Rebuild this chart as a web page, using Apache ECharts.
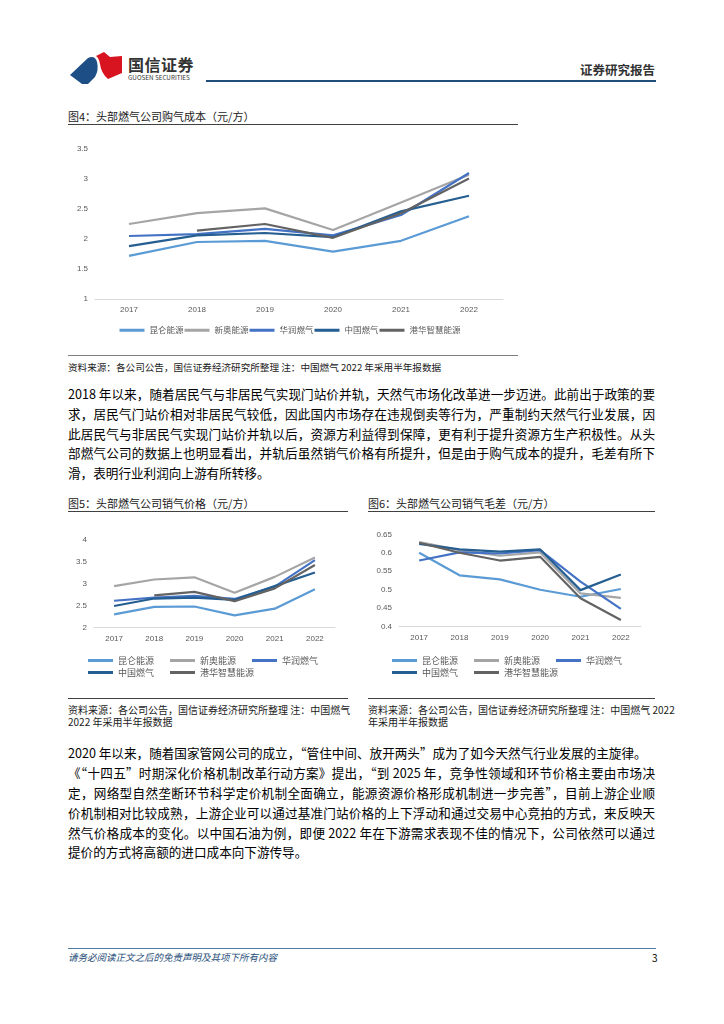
<!DOCTYPE html>
<html><head><meta charset="utf-8">
<script src="https://cdn.jsdelivr.net/npm/echarts@6/dist/echarts.min.js"></script>
<style>
html,body{margin:0;padding:0;background:#fff;}
#page{position:relative;width:724px;height:1024px;overflow:hidden;font-family:"Noto Sans CJK SC","Noto Sans",sans-serif;color:#000;}
.abs{position:absolute;white-space:nowrap;}
.ln{position:absolute;left:68px;width:587px;font-size:12.6px;line-height:16px;white-space:nowrap;}
.jl{text-align:justify;text-align-last:justify;}
.title{font-size:11px;line-height:14px;color:#1a1a1a;}
.src{font-size:9.6px;line-height:12px;color:#1a1a1a;}
.rule{position:absolute;height:0;}
</style></head>
<body><div id="page">
<!-- header -->
<svg class="abs" style="left:66px;top:48px" width="60" height="40" viewBox="66 48 60 40">
  <path d="M70,75 L88,58 Q95,55 97,62 Q99,70 95,77 L88,84 L82,84 Z" fill="#1d4f86"/>
  <path d="M96,56 L104,52 L110,57 L122,56 L122,73 L108,79 Q101,73 100,64 Q99,58 96,56 Z" fill="#d7141f"/>
</svg>
<div class="abs" style="left:128px;top:55px;font-size:16px;line-height:18px;font-weight:700;color:#333;letter-spacing:0.5px">国信证券</div>
<div class="abs" style="left:128px;top:74px;font-size:6.3px;line-height:8px;color:#333;">GUOSEN SECURITIES</div>
<div class="abs" style="left:580px;top:62px;font-size:12.5px;line-height:15px;font-weight:700;color:#333">证券研究报告</div>
<div class="rule" style="left:206px;top:80px;width:450px;border-top:2px solid #1f4e79"></div>

<!-- figure 4 -->
<div class="abs title" style="left:68px;top:109px">图4：头部燃气公司购气成本（元/方）</div>
<div class="rule" style="left:68px;top:124px;width:450px;border-top:1px solid #404040"></div>
<div id="c1" class="abs" style="left:60px;top:130px;width:460px;height:220px"></div>
<div class="rule" style="left:68px;top:355px;width:450px;border-top:1.5px solid #7f7f7f"></div>
<div class="abs src" style="left:68px;top:361px">资料来源：各公司公告，国信证券经济研究所整理 注：中国燃气 2022 年采用半年报数据</div>

<div class="ln jl" style="top:386px">2018 年以来，随着居民气与非居民气实现门站价并轨，天然气市场化改革进一步迈进。此前出于政策的要</div>
<div class="ln jl" style="top:406px">求，居民气门站价相对非居民气较低，因此国内市场存在违规倒卖等行为，严重制约天然气行业发展，因</div>
<div class="ln jl" style="top:426px">此居民气与非居民气实现门站价并轨以后，资源方利益得到保障，更有利于提升资源方生产积极性。从头</div>
<div class="ln jl" style="top:445px">部燃气公司的数据上也明显看出，并轨后虽然销气价格有所提升，但是由于购气成本的提升，毛差有所下</div>
<div class="ln" style="top:465px">滑，表明行业利润向上游有所转移。</div>

<!-- figure 5 -->
<div class="abs title" style="left:68px;top:496px">图5：头部燃气公司销气价格（元/方）</div>
<div class="rule" style="left:68px;top:511px;width:280px;border-top:1px solid #404040"></div>
<div id="c2" class="abs" style="left:60px;top:520px;width:300px;height:170px"></div>
<div class="rule" style="left:68px;top:698px;width:280px;border-top:1.5px solid #404040"></div>
<div class="abs src jl" style="left:68px;top:704px;width:279px;font-size:10px">资料来源：各公司公告，国信证券经济研究所整理 注：中国燃气</div>
<div class="abs src" style="left:68px;top:716px;font-size:10px">2022 年采用半年报数据</div>

<!-- figure 6 -->
<div class="abs title" style="left:368px;top:496px">图6：头部燃气公司销气毛差（元/方）</div>
<div class="rule" style="left:368px;top:511px;width:287px;border-top:1px solid #404040"></div>
<div id="c3" class="abs" style="left:360px;top:520px;width:300px;height:170px"></div>
<div class="rule" style="left:368px;top:698px;width:287px;border-top:1.5px solid #404040"></div>
<div class="abs src jl" style="left:368px;top:704px;width:287px;font-size:10px">资料来源：各公司公告，国信证券经济研究所整理 注：中国燃气 2022</div>
<div class="abs src" style="left:368px;top:716px;font-size:10px">年采用半年报数据</div>

<div class="ln" style="top:745px">2020 年以来，随着国家管网公司的成立，“管住中间、放开两头”成为了如今天然气行业发展的主旋律。</div>
<div class="ln jl" style="top:765px">《“十四五”时期深化价格机制改革行动方案》提出，“到 2025 年，竞争性领域和环节价格主要由市场决</div>
<div class="ln jl" style="top:785px">定，网络型自然垄断环节科学定价机制全面确立，能源资源价格形成机制进一步完善”，目前上游企业顺</div>
<div class="ln jl" style="top:805px">价机制相对比较成熟，上游企业可以通过基准门站价格的上下浮动和通过交易中心竞拍的方式，来反映天</div>
<div class="ln jl" style="top:825px">然气价格成本的变化。以中国石油为例，即便 2022 年在下游需求表现不佳的情况下，公司依然可以通过</div>
<div class="ln" style="top:844px">提价的方式将高额的进口成本向下游传导。</div>

<!-- footer -->
<div class="rule" style="left:68px;top:948px;width:588px;border-top:1px solid #4f7ca3"></div>
<div class="abs" style="left:68px;top:951px;font-size:9.5px;line-height:12px;font-style:italic;color:#1f4e79">请务必阅读正文之后的免责声明及其项下所有内容</div>
<div class="abs" style="left:652px;top:952px;font-size:10px;line-height:12px;color:#000">3</div>
</div>
<script>
// ---- data ----
var years = ['2017','2018','2019','2020','2021','2022'];
var seriesNames = ['昆仑能源','新奥能源','华润燃气','中国燃气','港华智慧能源'];
var seriesColors = ['#5B9BD5','#A5A5A5','#4472C4','#255E91','#636363'];

// 图4 购气成本
var costKunlun   = [1.72, 1.95, 1.97, 1.79, 1.97, 2.38];
var costXinao    = [2.25, 2.43, 2.51, 2.15, 2.61, 3.07];
var costHuarun   = [2.05, 2.08, 2.17, 2.06, 2.40, 3.10];
var costZhongguo = [1.88, 2.06, 2.10, 2.03, 2.46, 2.72];
var costGanghua  = [null, 2.14, 2.25, 2.02, 2.43, 3.01];

// 图5 销气价格
var priceKunlun   = [2.30, 2.47, 2.48, 2.28, 2.43, 2.87];
var priceXinao    = [2.94, 3.09, 3.14, 2.79, 3.15, 3.59];
var priceHuarun   = [2.61, 2.68, 2.72, 2.65, 2.93, 3.53];
var priceZhongguo = [2.49, 2.66, 2.68, 2.63, 2.94, 3.25];
var priceGanghua  = [null, 2.73, 2.81, 2.60, 2.89, 3.42];

// 图6 销气毛差
var marginKunlun   = [0.600, 0.539, 0.528, 0.500, 0.481, 0.502];
var marginXinao    = [0.629, 0.607, 0.592, 0.601, 0.490, 0.478];
var marginHuarun   = [0.579, 0.601, 0.598, 0.607, 0.522, 0.448];
var marginZhongguo = [0.624, 0.609, 0.603, 0.609, 0.499, 0.541];
var marginGanghua  = [0.627, 0.600, 0.579, 0.589, 0.477, 0.418];

var FONT = '"Liberation Sans","Noto Sans CJK SC",sans-serif';
var CJK = '"Noto Sans CJK SC",sans-serif';

function makeSeries(arrs){
  return arrs.map(function(d,i){
    return {name:seriesNames[i], type:'line', data:d, showSymbol:false, symbol:'none',
      connectNulls:false, color:seriesColors[i], silent:true,
      lineStyle:{width:2.2,color:seriesColors[i]}};
  });
}
function axes(grid, yMin, yMax, yInt){
  return {
    xAxis:{type:'category', data:years, boundaryGap:true,
      axisLine:{lineStyle:{color:'#d9d9d9',width:1}}, axisTick:{show:false},
      axisLabel:{color:'#595959', fontSize:8, fontFamily:FONT, margin:7}},
    yAxis:{type:'value', min:yMin, max:yMax, interval:yInt,
      axisLine:{show:false}, axisTick:{show:false}, splitLine:{show:false},
      axisLabel:{color:'#595959', fontSize:8, fontFamily:FONT, margin:7}},
    grid:grid
  };
}
function legendOf(data, left, top, gap, fs){
  return {data:data, left:left, top:top, orient:'horizontal', itemWidth:25, itemHeight:3,
    itemGap:gap, icon:'rect', selectedMode:false, padding:0,
    textStyle:{color:'#595959', fontSize:fs, fontFamily:CJK}};
}

// chart 1
var c1 = echarts.init(document.getElementById('c1'), null, {renderer:'canvas'});
var o1 = axes({left:35, top:19, width:408, height:150}, 1, 3.5, 0.5);
o1.animation = false;
o1.legend = legendOf(seriesNames, 'center', 196, 1, 8.5);
o1.series = makeSeries([costKunlun,costXinao,costHuarun,costZhongguo,costGanghua]);
c1.setOption(o1);

// chart 2
var c2 = echarts.init(document.getElementById('c2'));
var o2 = axes({left:34, top:19.3, width:241, height:88.4}, 2, 4, 0.5);
o2.animation = false;
o2.legend = [legendOf(seriesNames.slice(0,3), 28, 136, 16, 9), legendOf(seriesNames.slice(3), 28, 148, 16, 9)];
o2.series = makeSeries([priceKunlun,priceXinao,priceHuarun,priceZhongguo,priceGanghua]);
c2.setOption(o2);

// chart 3
var c3 = echarts.init(document.getElementById('c3'));
var o3 = axes({left:39, top:14.3, width:242, height:92.4}, 0.4, 0.65, 0.05);
o3.animation = false;
o3.legend = [legendOf(seriesNames.slice(0,3), 32, 136, 16, 9), legendOf(seriesNames.slice(3), 32, 148, 16, 9)];
o3.series = makeSeries([marginKunlun,marginXinao,marginHuarun,marginZhongguo,marginGanghua]);
c3.setOption(o3);
</script>
</body></html>
